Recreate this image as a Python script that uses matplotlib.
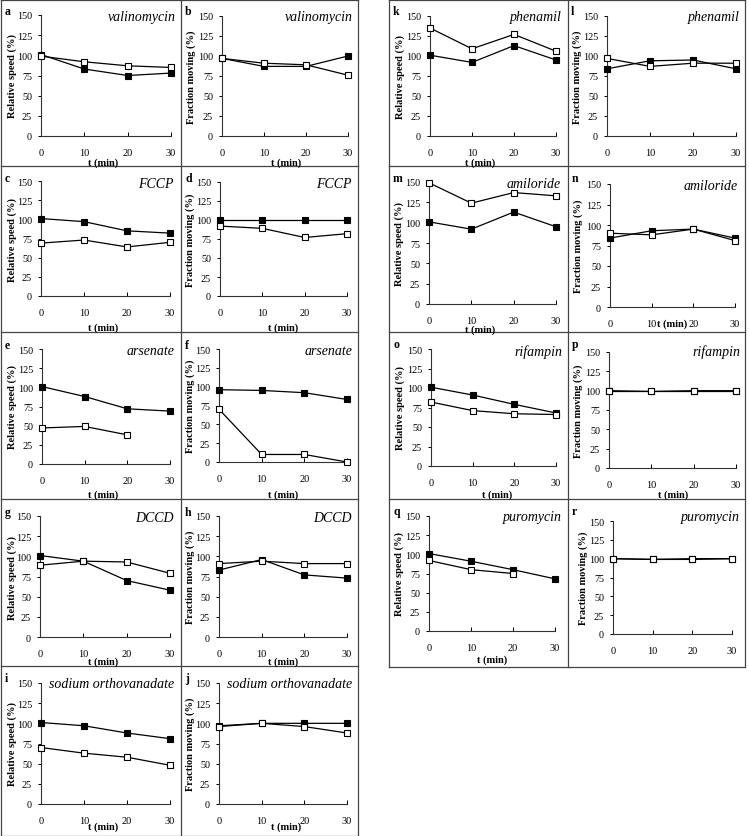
import matplotlib
matplotlib.use('Agg')
import matplotlib.pyplot as plt
from matplotlib.lines import Line2D

plt.rcParams['font.family'] = ['Liberation Serif', 'DejaVu Serif']

W, H = 749, 837

t = [0, 10, 20, 30]

# filled squares / open squares
a_filled = [101, 83, 75, 78]
a_open = [99, 92, 87, 85]
b_filled = [97, 87, 87, 100]
b_open = [97, 91, 89, 76]
c_filled = [101, 97, 85, 82]
c_open = [69, 73, 64, 70]
d_filled = [100, 100, 100, 100]
d_open = [92, 89, 77, 82]
e_filled = [101, 88, 72, 69]
e_open = [47, 49, 38]
f_filled = [96, 95, 92, 83]
f_open = [70, 10, 10, 0]
g_filled = [101, 94, 70, 58]
g_open = [89, 94, 93, 79]
h_filled = [83, 96, 77, 73]
h_open = [91, 94, 91, 91]
i_filled = [101, 97, 88, 81]
i_open = [70, 63, 58, 48]
j_filled = [97, 100, 100, 100]
j_open = [96, 100, 96, 88]
k_filled = [101, 92, 113, 95]
k_open = [135, 109, 127, 106]
l_filled = [84, 94, 95, 84]
l_open = [97, 87, 91, 91]
m_filled = [101, 92, 113, 95]
m_open = [149, 124, 137, 133]
n_filled = [84, 93, 95, 84]
n_open = [90, 88, 95, 81]
o_filled = [101, 91, 79, 68]
o_open = [82, 71, 67, 66]
p_filled = [100, 99, 100, 100]
p_open = [100, 100, 100, 100]
q_filled = [101, 91, 80, 68]
q_open = [92, 80, 75]
r_filled = [100, 99, 99, 100]
r_open = [100, 99, 100, 100]

yticks = [0, 25, 50, 75, 100, 125, 150]
xticks = [0, 10, 20, 30]
speed_label = 'Relative speed (%)'
moving_label = 'Fraction moving (%)'
xlabel = 't (min)'

# letter, drug, filled, open, ylabel
panels = [
    ('a', 'valinomycin', a_filled, a_open, speed_label),
    ('b', 'valinomycin', b_filled, b_open, moving_label),
    ('c', 'FCCP', c_filled, c_open, speed_label),
    ('d', 'FCCP', d_filled, d_open, moving_label),
    ('e', 'arsenate', e_filled, e_open, speed_label),
    ('f', 'arsenate', f_filled, f_open, moving_label),
    ('g', 'DCCD', g_filled, g_open, speed_label),
    ('h', 'DCCD', h_filled, h_open, moving_label),
    ('i', 'sodium orthovanadate', i_filled, i_open, speed_label),
    ('j', 'sodium orthovanadate', j_filled, j_open, moving_label),
    ('k', 'phenamil', k_filled, k_open, speed_label),
    ('l', 'phenamil', l_filled, l_open, moving_label),
    ('m', 'amiloride', m_filled, m_open, speed_label),
    ('n', 'amiloride', n_filled, n_open, moving_label),
    ('o', 'rifampin', o_filled, o_open, speed_label),
    ('p', 'rifampin', p_filled, p_open, moving_label),
    ('q', 'puromycin', q_filled, q_open, speed_label),
    ('r', 'puromycin', r_filled, r_open, moving_label),
]

# pixel layout: axes left, right, top(150), bottom(0), letter xy, title right x, title y,
# ylabel x, xlabel xy (None = no label)
layout = {
    'a': (41, 171, 16, 137, (5, 12), 176, 18, 12, (103, 163)),
    'b': (222, 348, 17, 137, (185, 12), 353, 18, 191, (286, 163)),
    'c': (41, 170, 182, 297, (5, 179), 174, 185, 12, (103, 328)),
    'd': (220, 347, 183, 297, (185, 179), 352, 185, 190, (283, 328)),
    'e': (42, 170, 350, 465, (5, 346), 174, 352, 12, (103, 495)),
    'f': (219, 347, 350, 463, (185, 346), 352, 352, 190, (283, 495)),
    'g': (40, 170, 517, 638, (5, 513), 174, 518, 12, (103, 662)),
    'h': (219, 347, 517, 638, (185, 513), 352, 518, 190, (283, 662)),
    'i': (41, 170, 684, 805, (5, 679), 174, 685, 12, (103, 827)),
    'j': (219, 347, 684, 805, (185, 679), 352, 685, 190, (286, 827)),
    'k': (430, 556, 17, 137, (393, 12), 562, 18, 400, (480, 163)),
    'l': (607, 736, 17, 137, (571, 12), 740, 18, 577, None),
    'm': (429, 556, 183, 305, (393, 179), 561, 185, 399, (480, 330)),
    'n': (610, 735, 185, 308, (572, 179), 738, 187, 578, (672, 324)),
    'o': (431, 556, 350, 467, (393, 345), 562, 352, 400, (497, 495)),
    'p': (609, 736, 353, 469, (572, 345), 740, 352, 578, (673, 495)),
    'q': (429, 555, 517, 632, (393, 512), 562, 518, 399, (492, 660)),
    'r': (613, 732, 522, 635, (572, 512), 740, 518, 583, None),
}

fig = plt.figure(figsize=(W / 100, H / 100), dpi=100)
fig.patch.set_facecolor('white')

for letter, drug, filled, opened, ylab in panels:
    L, R, T, B, lxy, tx, ty, ylx, xlxy = layout[letter]
    ax = fig.add_axes([L / W, 1 - B / H, (R - L) / W, (B - T) / H])
    ax.plot(t[:len(filled)], filled, color='black', lw=0.9, marker='s', ms=4.2,
            mfc='black', mec='black', mew=0.8, clip_on=False, zorder=3)
    ax.plot(t[:len(opened)], opened, color='black', lw=0.9, marker='s', ms=4.2,
            mfc='white', mec='black', mew=0.8, clip_on=False, zorder=4)
    ax.set_xlim(0, 30)
    ax.set_ylim(0, 150)
    ax.set_xticks(xticks)
    ax.set_yticks(yticks)
    ax.spines['top'].set_visible(False)
    ax.spines['right'].set_visible(False)
    for s in ('left', 'bottom'):
        ax.spines[s].set_linewidth(0.8)
        ax.spines[s].set_color('#333333')
    ax.tick_params(axis='x', direction='in', length=3, width=0.7, pad=8.5,
                   labelsize=7.5)
    ax.tick_params(axis='y', direction='out', length=2.5, width=0.7, pad=4,
                   labelsize=7.3)
    fig.text(ylx / W, 1 - (T + B) / 2 / H, ylab, rotation=90, ha='center',
             va='center', fontsize=7.5, fontweight='bold')
    if xlxy is not None:
        fig.text(xlxy[0] / W, 1 - xlxy[1] / H, xlabel, ha='center',
                 va='center', fontsize=7.5, fontweight='bold')
    fig.text(lxy[0] / W, 1 - lxy[1] / H, letter, ha='left', va='center',
             fontsize=8.5, fontweight='bold')
    fig.text(tx / W, 1 - ty / H, drug, ha='right', va='center',
             fontsize=10, style='italic')


def hline(y, x0, x1):
    fig.add_artist(Line2D([x0 / W, x1 / W], [1 - y / H, 1 - y / H],
                          transform=fig.transFigure, color='#444444', lw=0.9))


def vline(x, y0, y1):
    fig.add_artist(Line2D([x / W, x / W], [1 - y0 / H, 1 - y1 / H],
                          transform=fig.transFigure, color='#444444', lw=0.9))


# panel frames, left block
for y in (0.5, 167, 333, 500, 667, 836.5):
    hline(y, 0.5, 358)
for x in (0.5, 181, 358):
    vline(x, 0.5, 836.5)
# right block
for y in (0.5, 167, 333, 500, 668):
    hline(y, 389, 745)
for x in (389, 568, 745):
    vline(x, 0.5, 668)

fig.savefig('out.png', dpi=100)
